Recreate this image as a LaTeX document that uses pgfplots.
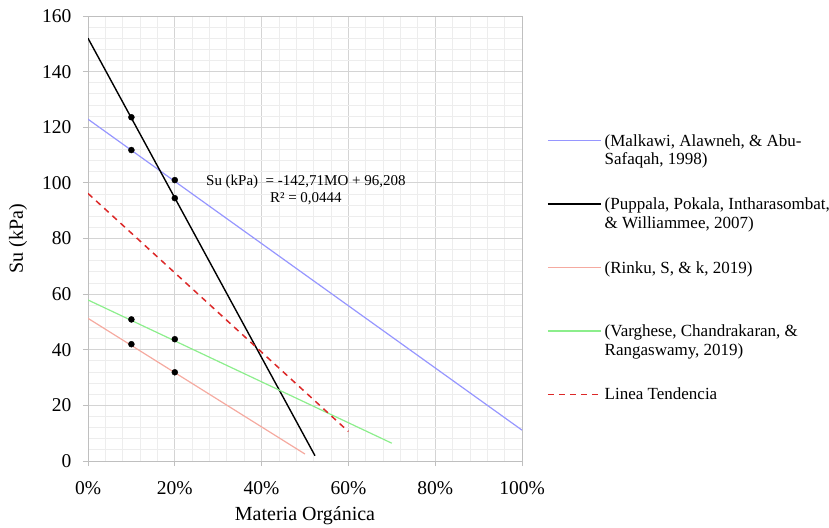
\documentclass[border=0pt]{standalone}
\usepackage{fontspec}
\setmainfont{Liberation Serif}
\usepackage{pgfplots}
\pgfplotsset{compat=1.18}
\definecolor{cblue}{RGB}{150,150,255}
\definecolor{cpink}{RGB}{245,170,160}
\definecolor{cgreen}{RGB}{140,238,140}
\definecolor{cred}{RGB}{220,40,40}
\begin{document}
\begin{tikzpicture}[x=1pt,y=1pt]
\useasboundingbox (0,0) rectangle (829,-527);
\begin{axis}[
 at={(88pt,-461pt)}, anchor=south west,
 scale only axis, width=434pt, height=445pt,
 xmin=0, xmax=1, ymin=0, ymax=160,
 xtick={0,0.2,0.4,0.6,0.8,1},
 xticklabels={0\%,20\%,40\%,60\%,80\%,100\%},
 ytick={0,20,...,160},
 minor x tick num=4, minor y tick num=4,
 grid=both,
 major grid style={draw=black!17, line width=0.8pt},
 minor grid style={draw=black!7, line width=0.8pt},
 axis line style={draw=black!25, line width=0.9pt},
 tick pos=left, tick align=outside,
 major tick length=5pt, minor tick length=0pt,
 tick style={draw=black!25, line width=0.9pt},
 /pgf/number format/assume math mode=true,
 ticklabel style={font=\fontsize{19.5}{22}\selectfont},
 xticklabel style={yshift=-12pt},
 yticklabel style={xshift=-8pt},
 label style={font=\fontsize{20}{24}\selectfont},
 xlabel={Materia Orgánica}, ylabel={Su (kPa)},
 xlabel style={at={(axis description cs:0.5,-0.1236)}, anchor=center},
 ylabel style={at={(axis description cs:-0.1613,0.5)}, anchor=center},
 legend style={at={(axis description cs:1.0576,0.737)}, anchor=north west,
   draw=none, fill=none, inner sep=0pt, row sep=49pt, column sep=3pt,
   font=\fontsize{17}{18.5}\selectfont,
   cells={anchor=base west}, nodes={inner sep=0pt}},
 legend image code/.code={\path (0pt,0pt); \draw[#1] (0pt,5.5pt) -- (53pt,5.5pt);},
]
\addplot[cblue, line width=1.2pt] coordinates {(0,122.9) (1,11.1)};
\addlegendentry{\parbox[t]{230pt}{\strut(Malkawi, Alawneh, \& Abu-\\\strut Safaqah, 1998)}}
\addplot[black, line width=1.4pt] coordinates {(0,152.0) (0.523,1.9)};
\addlegendentry{\parbox[t]{230pt}{\strut(Puppala, Pokala, Intharasombat,\\\strut \& Williammee, 2007)}}
\addplot[cpink, line width=1.2pt] coordinates {(0,51.3) (0.50,2.5)};
\addlegendentry{\parbox[t]{230pt}{\strut(Rinku, S, \& k, 2019)\\\strut}}
\addplot[cgreen, line width=1.2pt] coordinates {(0,57.9) (0.70,6.4)};
\addlegendentry{\parbox[t]{230pt}{\strut(Varghese, Chandrakaran, \&\\\strut Rangaswamy, 2019)}}
\addplot[cred, line width=1.5pt, dash pattern=on 6pt off 5pt] coordinates {(0,96.2) (0.6,10.6)};
\addlegendentry{\parbox[t]{230pt}{\strut Linea Tendencia\\\strut}}
\addplot[only marks, mark=*, mark size=3pt, black, forget plot] coordinates {
 (0.1,123.6) (0.2,94.5) (0.1,111.8) (0.2,101.0)
 (0.1,50.9) (0.2,43.8) (0.1,42.0) (0.2,31.9)};
\node[font=\fontsize{15}{17}\selectfont, align=center] at (axis cs:0.502,97.3)
 {Su (kPa)\ \ = -142,71MO + 96,208\\R² = 0,0444};
\end{axis}
\end{tikzpicture}
\end{document}
